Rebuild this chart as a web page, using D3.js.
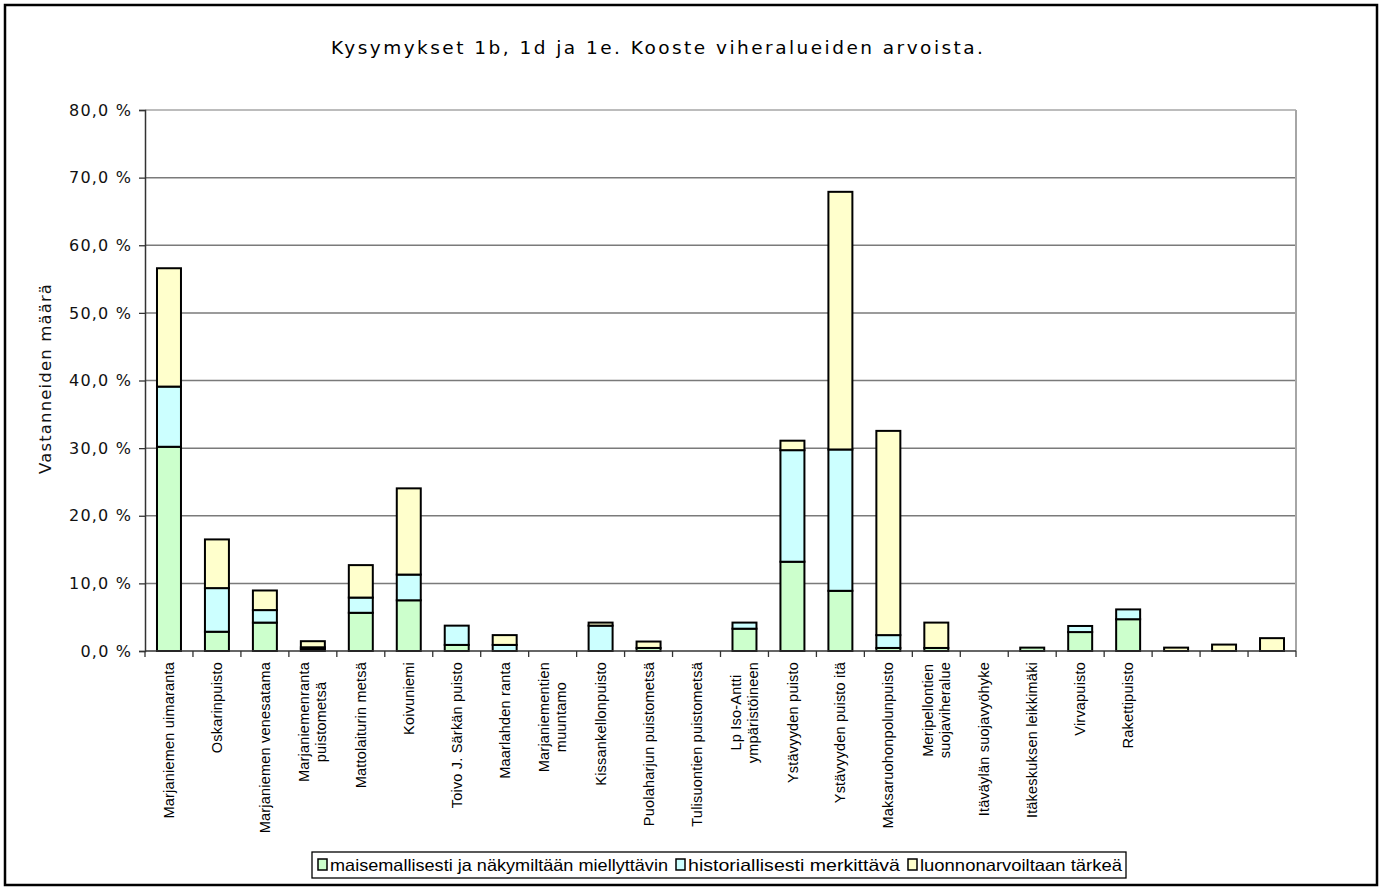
<!DOCTYPE html>
<html>
<head>
<meta charset="utf-8">
<script src="https://cdn.jsdelivr.net/npm/d3@7/dist/d3.min.js"></script>
<style>
  html, body { margin: 0; padding: 0; background: #fff; }
  svg { display: block; }
</style>
</head>
<body>
<svg id="chart" width="1384" height="890"></svg>
<script>
const title = "Kysymykset 1b, 1d ja 1e. Kooste viheralueiden arvoista.";
const yAxisTitle = "Vastanneiden määrä";
const categories = [
  "Marjaniemen uimaranta", "Oskarinpuisto", "Marjaniemen venesatama",
  "Marjaniemenranta\npuistometsä", "Mattolaiturin metsä", "Koivuniemi",
  "Toivo J. Särkän puisto", "Maarlahden ranta", "Marjaniementien\nmuuntamo",
  "Kissankellonpuisto", "Puolaharjun puistometsä", "Tulisuontien puistometsä",
  "Lp Iso-Antti\nympäristöineen", "Ystävyyden puisto", "Ystävyyden puisto itä",
  "Maksaruohonpolunpuisto", "Meripellontien\nsuojaviheralue", "Itäväylän suojavyöhyke",
  "Itäkeskuksen leikkimäki", "Virvapuisto", "Rakettipuisto", "", " ", "  "
];
const seriesNames = ["maisemallisesti ja näkymiltään miellyttävin", "historiallisesti merkittävä", "luonnonarvoiltaan tärkeä"];
const maisema  = [30.2, 2.85, 4.2, 0.3, 5.65, 7.5, 0.9, 0, 0, 0, 0.45, 0, 3.3, 13.2, 8.9, 0.45, 0.45, 0, 0.5, 2.8, 4.7, 0, 0, 0];
const historia = [8.9, 6.45, 1.85, 0.25, 2.25, 3.8, 2.85, 0.9, 0, 3.75, 0, 0, 0.9, 16.5, 20.9, 1.9, 0, 0, 0, 0.9, 1.45, 0, 0, 0];
const luonto   = [17.5, 7.2, 2.9, 0.9, 4.8, 12.75, 0, 1.45, 0, 0.45, 0.95, 0, 0, 1.4, 38.1, 30.2, 3.75, 0, 0, 0, 0, 0.5, 0.95, 1.9];
const yTicks = [0, 10, 20, 30, 40, 50, 60, 70, 80];
const colors = ["#CCFFCC", "#CCFFFF", "#FFFFCC"];

const svg = d3.select("#chart");
const pLeft = 145, pRight = 1296, pTop = 110, pBottom = 651;

// outer frame
svg.append("rect").attr("x", 5).attr("y", 5).attr("width", 1372).attr("height", 880)
  .attr("fill", "#fff").attr("stroke", "#000").attr("stroke-width", 2.5);

const x = d3.scaleBand().domain(categories).range([pLeft, pRight]).paddingInner(0.5).paddingOuter(0.25);
const xOuter = d3.scaleBand().domain(categories).range([pLeft, pRight]);
const y = d3.scaleLinear().domain([0, 80]).range([pBottom, pTop]);

// title
svg.append("text").attr("x", 657).attr("y", 54).attr("text-anchor", "middle")
  .attr("font-family", "DejaVu Sans, Verdana, sans-serif").attr("font-size", 18.5)
  .attr("textLength", 652).attr("lengthAdjust", "spacing")
  .attr("fill", "#000").text(title);

// gridlines
svg.append("g").selectAll("line").data(yTicks.filter(d => d > 0)).join("line")
  .attr("x1", pLeft).attr("x2", pRight)
  .attr("y1", d => y(d)).attr("y2", d => y(d))
  .attr("stroke", d => d === 80 ? "#a6a6a6" : "#7a7a7a").attr("stroke-width", 1.5);
// right border
svg.append("line").attr("x1", pRight).attr("x2", pRight).attr("y1", pTop).attr("y2", pBottom)
  .attr("stroke", "#a6a6a6").attr("stroke-width", 2);

// y axis
const yAxis = d3.axisLeft(y).tickValues(yTicks).tickSize(6).tickPadding(8)
  .tickFormat(d => d.toFixed(1).replace(".", ",") + " %");
const gy = svg.append("g").attr("transform", `translate(${pLeft},0)`).call(yAxis);
gy.select(".domain").attr("stroke", "#333").attr("stroke-width", 1.5);
gy.selectAll(".tick line").attr("stroke", "#333").attr("stroke-width", 1.3);
gy.selectAll(".tick text").attr("font-family", "DejaVu Sans, Verdana, sans-serif")
  .attr("font-size", 16).attr("letter-spacing", 1.2).attr("fill", "#111").attr("dx", 1.2);

// y axis title
svg.append("text").attr("transform", "translate(51,379) rotate(-90)")
  .attr("text-anchor", "middle").attr("font-family", "DejaVu Sans, Verdana, sans-serif")
  .attr("font-size", 16.5).attr("textLength", 190).attr("lengthAdjust", "spacing")
  .attr("fill", "#111").text(yAxisTitle);

// stacked bars
const rows = categories.map((c, i) => ({ cat: c, s0: maisema[i], s1: historia[i], s2: luonto[i] }));
const stack = d3.stack().keys(["s0", "s1", "s2"])(rows);
stack.forEach((layer, li) => {
  svg.append("g").selectAll("rect").data(layer.filter(d => d[1] - d[0] > 0)).join("rect")
    .attr("x", d => x(d.data.cat))
    .attr("width", x.bandwidth())
    .attr("y", d => y(d[1]))
    .attr("height", d => y(d[0]) - y(d[1]))
    .attr("fill", colors[li]).attr("stroke", "#000").attr("stroke-width", 2);
});

// x axis
const gx = svg.append("g").attr("transform", `translate(0,${pBottom})`);
gx.append("line").attr("x1", pLeft).attr("x2", pRight).attr("stroke", "#333").attr("stroke-width", 1.5);
const boundaries = categories.map(c => xOuter(c)).concat([pRight]);
gx.selectAll("line.tk").data(boundaries).join("line").attr("class", "tk")
  .attr("x1", d => d).attr("x2", d => d).attr("y1", 0).attr("y2", 6)
  .attr("stroke", "#333").attr("stroke-width", 1.3);

// x labels
const labelTop = 662, lineH = 17;
categories.forEach(c => {
  const lines = c.trim() === "" ? [] : c.split("\n");
  if (!lines.length) return;
  const cx = xOuter(c) + xOuter.bandwidth() / 2;
  const g = svg.append("g");
  const texts = lines.map((ln, k) => {
    const off = (k - (lines.length - 1) / 2) * lineH;
    return g.append("text")
      .attr("font-family", "Liberation Sans, Arial, sans-serif").attr("font-size", 14.5)
      .attr("letter-spacing", 0.2).attr("fill", "#000")
      .attr("dy", "0.35em").attr("text-anchor", "middle")
      .attr("data-off", off).text(ln);
  });
  const lens = texts.map(t => t.node().getComputedTextLength());
  const maxLen = d3.max(lens);
  texts.forEach((t, k) => {
    const off = +t.attr("data-off");
    const cy = labelTop + maxLen / 2;
    t.attr("transform", `translate(${cx + off},${cy}) rotate(-90)`);
  });
});

// legend
const lg = svg.append("g");
lg.append("rect").attr("x", 312).attr("y", 852).attr("width", 814).attr("height", 26)
  .attr("fill", "#fff").attr("stroke", "#000").attr("stroke-width", 1.3);
const legendX = [318, 676, 908];
const legendW = [338, 212, 202];
seriesNames.forEach((n, i) => {
  lg.append("rect").attr("x", legendX[i]).attr("y", 859).attr("width", 9).attr("height", 11)
    .attr("fill", colors[i]).attr("stroke", "#000").attr("stroke-width", 1.5);
  lg.append("text").attr("x", legendX[i] + 12).attr("y", 871)
    .attr("font-family", "Liberation Sans, Arial, sans-serif").attr("font-size", 16.5)
    .attr("textLength", legendW[i]).attr("lengthAdjust", "spacingAndGlyphs")
    .attr("fill", "#000").text(n);
});
</script>
</body>
</html>
